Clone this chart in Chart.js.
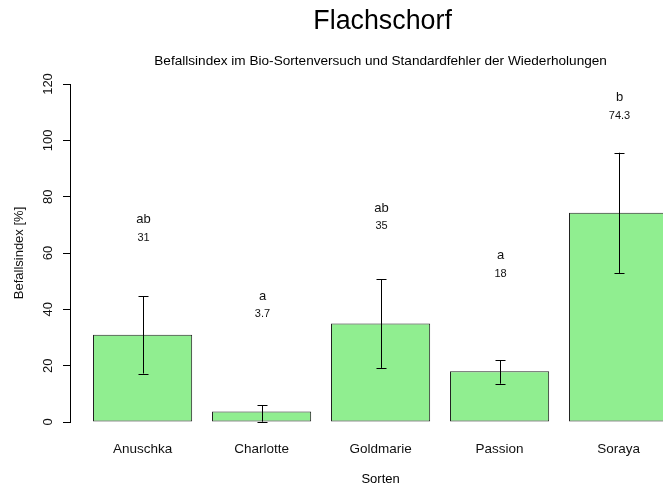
<!DOCTYPE html>
<html>
<head>
<meta charset="utf-8">
<script src="https://cdn.jsdelivr.net/npm/chart.js@4.4.1/dist/chart.umd.min.js"></script>
<style>
  html, body { margin: 0; padding: 0; background: #fff; overflow: hidden; }
  #wrap { width: 663px; height: 487px; position: relative; }
</style>
</head>
<body>
<div id="wrap"><canvas id="grafik"></canvas></div>
<script>
// Daten
const sorten = ['Anuschka', 'Charlotte', 'Goldmarie', 'Passion', 'Soraya'];
const befallsindex = [31, 3.7, 35, 18, 74.3];
const fehlerUnten = [17.2, 0.1, 19.2, 13.6, 52.9];
const fehlerOben = [44.6, 6.0, 50.6, 21.9, 95.6];
const buchstaben = ['ab', 'a', 'ab', 'a', 'b'];
const wertTexte = ['31', '3.7', '35', '18', '74.3'];
const yTicks = [0, 20, 40, 60, 80, 100, 120];

const titel = 'Flachschorf';
const untertitel = 'Befallsindex im Bio-Sortenversuch und Standardfehler der Wiederholungen';

// Balkenpositionen wie bei barplot() (Breite 1, Abstand 0.2)
const xPos = sorten.map((s, i) => 0.7 + i * 1.2);
const schrift = "'Liberation Sans', Arial, sans-serif";

// Plugin für Fehlerbalken, Buchstaben und Titel
const extras = {
    id: 'extras',
    afterDatasetsDraw(chart) {
        const ctx = chart.ctx;
        const x = chart.scales.x;
        const y = chart.scales.y;
        ctx.save();
        ctx.strokeStyle = '#000';
        ctx.lineWidth = 1;
        xPos.forEach((p, i) => {
            const px = Math.round(x.getPixelForValue(p)) + 0.5;
            const y1 = y.getPixelForValue(fehlerOben[i]);
            const y2 = y.getPixelForValue(fehlerUnten[i]);
            ctx.beginPath();
            ctx.moveTo(px, y1); ctx.lineTo(px, y2);
            ctx.moveTo(px - 5, Math.round(y1) + 0.5); ctx.lineTo(px + 5, Math.round(y1) + 0.5);
            ctx.moveTo(px - 5, Math.round(y2) + 0.5); ctx.lineTo(px + 5, Math.round(y2) + 0.5);
            ctx.stroke();

            ctx.fillStyle = '#111';
            ctx.textAlign = 'center';
            ctx.textBaseline = 'middle';
            ctx.font = '13px ' + schrift;
            ctx.fillText(buchstaben[i], px, y.getPixelForValue(befallsindex[i] + 41));
            ctx.font = '11px ' + schrift;
            ctx.fillText(wertTexte[i], px, y.getPixelForValue(befallsindex[i] + 34.5));
        });

        // Titel über der Mitte des Plotbereichs
        const mitte = x.getPixelForValue(xPos[2]);
        ctx.fillStyle = '#000';
        ctx.font = '26.8px ' + schrift;
        ctx.fillText(titel, mitte + 2, 22);
        ctx.font = '13.6px ' + schrift;
        ctx.fillText(untertitel, mitte, 61);
        ctx.font = '13px ' + schrift;
        ctx.fillText('Sorten', mitte, 479);
        ctx.restore();
    }
};

function crearGrafik() {
    const ctx = document.getElementById('grafik').getContext('2d');
    new Chart(ctx, {
        type: 'bar',
        data: {
            datasets: [{
                data: xPos.map((p, i) => ({ x: p, y: befallsindex[i] })),
                backgroundColor: '#90EE90',
                borderColor: '#222',
                borderWidth: 1,
                borderSkipped: false,
                categoryPercentage: 1,
                barPercentage: 1 / 1.2
            }]
        },
        options: {
            responsive: true,
            maintainAspectRatio: false,
            animation: false,
            layout: { padding: { top: 84, right: 0, left: 0, bottom: 0 } },
            plugins: { legend: { display: false }, tooltip: { enabled: false } },
            scales: {
                x: {
                    type: 'linear',
                    min: -0.032,
                    max: 5.948,
                    offset: false,
                    afterFit: (s) => { s.height = 65; },
                    afterBuildTicks: (s) => { s.ticks = xPos.map(v => ({ value: v })); },
                    grid: { display: false, offset: false },
                    border: { display: false },
                    ticks: {
                        color: '#111',
                        font: { family: schrift, size: 13.5 },
                        padding: 11,
                        maxRotation: 0,
                        autoSkip: false,
                        callback: (v) => sorten[Math.round((v - 0.7) / 1.2)]
                    }
                },
                y: {
                    min: 0,
                    max: 120,
                    afterFit: (s) => { s.width = 70; },
                    afterBuildTicks: (s) => { s.ticks = yTicks.map(v => ({ value: v })); },
                    grid: { display: true, drawOnChartArea: false, drawTicks: true, tickLength: 7, color: '#000' },
                    border: { display: true, color: '#000' },
                    ticks: {
                        color: '#111',
                        font: { family: schrift, size: 13 },
                        minRotation: 90,
                        maxRotation: 90,
                        crossAlign: 'center',
                        padding: 4
                    },
                    title: {
                        display: true,
                        text: 'Befallsindex [%]',
                        color: '#111',
                        font: { family: schrift, size: 13 },
                        padding: { top: 12, bottom: 0 }
                    }
                }
            }
        },
        plugins: [extras]
    });
}

document.addEventListener('DOMContentLoaded', crearGrafik);
</script>
</body>
</html>
